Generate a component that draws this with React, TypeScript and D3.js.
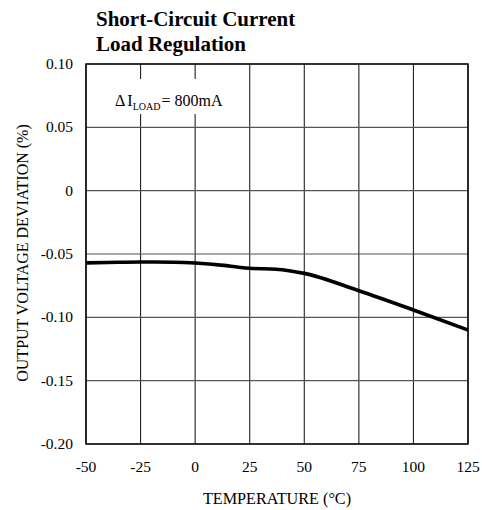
import React from "react";
import * as d3 from "d3";

const temps = [-50, -40, -25, -10, 0, 13, 20, 25, 37, 50, 75, 100, 125];
const deviation = [-0.057, -0.0567, -0.0563, -0.0565, -0.0571, -0.059, -0.0605, -0.0613, -0.062, -0.0653, -0.079, -0.0942, -0.11];
const xTicks = [-50, -25, 0, 25, 50, 75, 100, 125];
const yTicks = [0.1, 0.05, 0, -0.05, -0.1, -0.15, -0.2];
const yTickLabels = ["0.10", "0.05", "0", "-0.05", "-0.10", "-0.15", "-0.20"];
const titleLines = ["Short-Circuit Current", "Load Regulation"];

export default function App() {
  const W = 482, H = 510;
  const left = 86, right = 468, top = 64, bottom = 444;
  const x = d3.scaleLinear().domain([-50, 125]).range([left, right]);
  const y = d3.scaleLinear().domain([-0.2, 0.1]).range([bottom, top]);
  const line = d3.line<number>().x((_, i) => x(temps[i])).y((d) => y(d)).curve(d3.curveMonotoneX);
  const font = "'Liberation Serif', 'Times New Roman', serif";

  return (
    <svg width={W} height={H} style={{ position: "absolute", left: 0, top: 0, background: "#fff" }} fontFamily={font}>
      <rect x={0} y={0} width={W} height={H} fill="#fff" />
      {titleLines.map((t, i) => (
        <text key={t} x={96} y={26 + i * 25} fontSize={21} fontWeight="bold" fill="#000">{t}</text>
      ))}
      {/* grid */}
      {xTicks.map((t) => (
        <line key={"gx" + t} x1={x(t)} x2={x(t)} y1={top} y2={bottom} stroke="#222" strokeWidth={1.1} />
      ))}
      {yTicks.map((t) => (
        <line key={"gy" + t} x1={left} x2={right} y1={y(t)} y2={y(t)} stroke="#555" strokeWidth={1.1} />
      ))}
      <rect x={left} y={top} width={right - left} height={bottom - top} fill="none" stroke="#000" strokeWidth={1.4} />
      {/* annotation */}
      <rect x={110} y={79} width={118} height={35} fill="#fff" />
      <text x={115} y={106} fontSize={16} fill="#000">
        <tspan>Δ</tspan>
        <tspan dx={2}>I</tspan>
        <tspan fontSize={10} dy={4}>LOAD</tspan>
        <tspan dy={-4} dx={1}>= 800mA</tspan>
      </text>
      {/* curve */}
      <path d={line(deviation) || ""} fill="none" stroke="#000" strokeWidth={3.6} strokeLinejoin="round" />
      {/* y labels */}
      {yTicks.map((t, i) => (
        <text key={"yl" + t} x={73} y={y(t) + 5} fontSize={15.5} textAnchor="end" fill="#000">{yTickLabels[i]}</text>
      ))}
      {xTicks.map((t) => (
        <text key={"xl" + t} x={x(t)} y={472} fontSize={15.5} textAnchor="middle" fill="#000">{t}</text>
      ))}
      <text x={(left + right) / 2} y={504} fontSize={16.2} textAnchor="middle" fill="#000">TEMPERATURE (°C)</text>
      <text transform={`translate(28, ${(top + bottom) / 2 - 1}) rotate(-90)`} fontSize={16} textAnchor="middle" fill="#000">
        OUTPUT VOLTAGE DEVIATION (%)
      </text>
    </svg>
  );
}
